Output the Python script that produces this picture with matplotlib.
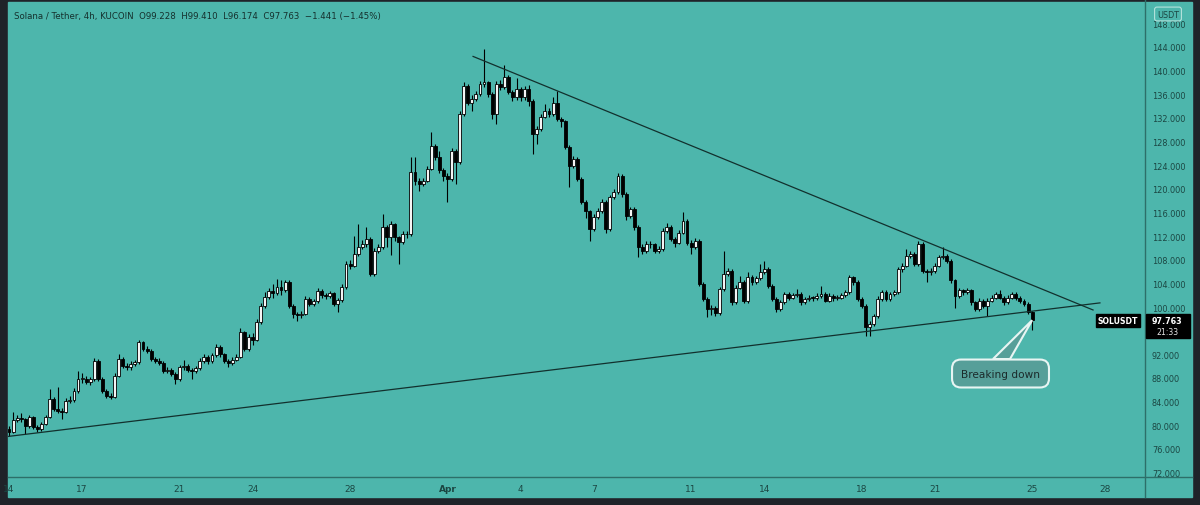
import matplotlib
matplotlib.use("Agg")
import matplotlib.pyplot as plt
from matplotlib.patches import Rectangle, Polygon
from matplotlib.lines import Line2D

# SOL/USDT 4h candles (open = previous close)
first_open = 79.3
closes = [
    78.9, 80.8, 81.2, 81.0, 79.9, 81.4, 79.7, 79.4, 80.2, 81.4,
    84.4, 82.7, 82.4, 82.3, 84.1, 84.3, 85.8, 87.8, 87.9, 87.3,
    87.8, 90.9, 87.8, 85.8, 85.0, 84.8, 88.4, 91.2, 90.1, 89.8,
    90.4, 90.7, 94.0, 92.9, 92.6, 91.2, 90.9, 90.6, 89.2, 89.4,
    88.7, 87.8, 89.8, 90.0, 89.4, 89.1, 89.7, 90.9, 91.5, 90.8,
    91.8, 93.2, 92.0, 90.9, 90.5, 91.1, 91.6, 95.7, 92.9, 94.9,
    94.5, 97.5, 100.2, 101.7, 102.7, 102.4, 103.4, 102.8, 104.2, 100.2,
    98.8, 98.6, 98.9, 101.4, 100.5, 101.0, 102.7, 102.0, 101.8, 102.3,
    100.5, 101.2, 103.4, 107.3, 107.0, 109.0, 110.2, 110.6, 111.5, 105.6,
    109.5, 110.2, 113.5, 111.8, 114.0, 111.8, 111.0, 112.4, 112.3, 122.8,
    121.3, 120.9, 121.4, 123.4, 127.3, 125.3, 123.1, 122.2, 121.6, 126.4,
    124.5, 132.7, 137.4, 134.6, 135.2, 136.0, 137.7, 138.0, 136.0, 132.7,
    137.7, 137.2, 139.0, 136.4, 135.5, 136.9, 135.5, 136.9, 134.9, 129.3,
    130.1, 132.2, 133.2, 132.6, 134.5, 131.8, 131.4, 127.1, 123.9, 125.0,
    121.7, 117.8, 116.2, 113.2, 115.2, 116.2, 117.8, 113.2, 118.6, 119.5,
    122.2, 119.1, 115.4, 116.6, 113.5, 110.1, 109.5, 110.7, 110.6, 109.5,
    109.8, 112.9, 113.5, 111.5, 110.9, 112.6, 114.6, 110.9, 110.1, 111.2,
    103.9, 101.4, 99.7, 99.9, 99.0, 103.0, 105.6, 106.1, 100.8, 103.3,
    104.2, 101.0, 105.1, 104.2, 104.9, 105.9, 106.5, 103.6, 101.4, 99.7,
    100.8, 102.2, 101.6, 102.0, 102.2, 100.8, 101.3, 101.6, 101.5, 101.9,
    102.2, 101.1, 101.9, 101.5, 101.6, 102.0, 102.5, 105.0, 104.2, 101.4,
    100.2, 96.6, 97.1, 98.5, 101.4, 102.5, 101.4, 102.2, 102.5, 106.4,
    107.0, 108.7, 109.0, 107.3, 110.7, 106.1, 105.9, 106.1, 107.0, 108.4,
    108.7, 107.8, 104.5, 101.9, 102.8, 102.5, 102.8, 100.8, 99.7, 101.1,
    100.1, 101.1, 101.6, 102.2, 101.6, 100.8, 101.6, 102.2, 101.6, 101.1,
    100.5, 99.228, 97.763,
]
highs = [
    79.8, 82.2, 81.7, 82.0, 81.3, 81.8, 81.6, 80.0, 80.5, 81.8,
    86.1, 84.8, 86.5, 82.9, 84.6, 84.9, 86.3, 89.2, 88.9, 88.3,
    88.2, 91.3, 91.2, 88.1, 86.1, 85.5, 88.8, 92.0, 91.6, 90.6,
    90.9, 91.1, 94.5, 94.2, 93.4, 92.9, 91.6, 91.3, 90.9, 89.8,
    89.7, 89.0, 90.2, 91.1, 90.3, 89.7, 90.1, 91.3, 92.1, 91.8,
    92.3, 93.7, 93.5, 92.3, 91.2, 91.5, 92.1, 96.4, 96.0, 95.4,
    95.6, 97.9, 100.7, 102.5, 103.3, 103.9, 104.7, 104.5, 104.6, 104.5,
    100.5, 99.2, 99.4, 101.8, 101.7, 101.4, 103.2, 103.0, 102.4, 102.7,
    102.6, 101.6, 103.9, 107.8, 107.9, 112.0, 114.0, 111.3, 113.5, 111.9,
    110.0, 110.7, 115.7, 113.9, 114.5, 114.3, 112.1, 112.8, 112.8, 125.4,
    125.4, 121.8, 121.9, 123.9, 129.6, 127.6, 126.4, 123.5, 122.7, 126.9,
    126.8, 133.2, 138.0, 137.7, 135.8, 136.5, 138.2, 143.7, 138.3, 136.3,
    138.3, 138.4, 141.0, 139.3, 136.7, 138.7, 137.2, 137.4, 137.6, 135.2,
    130.6, 132.7, 134.3, 133.6, 135.5, 136.5, 132.2, 131.7, 127.4, 125.5,
    125.3, 122.0, 118.1, 116.5, 115.7, 116.7, 118.3, 118.1, 119.0, 120.0,
    122.6, 122.5, 119.4, 117.0, 116.9, 113.8, 110.6, 111.1, 111.2, 110.9,
    110.3, 113.3, 114.2, 113.8, 111.8, 113.0, 116.0, 114.9, 111.3, 111.6,
    111.5, 104.2, 101.7, 100.4, 100.2, 103.4, 109.4, 106.6, 106.4, 103.8,
    105.2, 104.5, 105.9, 105.4, 105.3, 107.3, 107.8, 106.8, 103.9, 101.7,
    101.2, 102.6, 102.5, 102.4, 103.0, 102.5, 101.7, 102.0, 101.9, 102.3,
    103.5, 102.5, 102.3, 102.2, 102.0, 102.4, 102.9, 105.4, 105.3, 104.5,
    101.7, 100.5, 97.6, 98.9, 101.8, 102.9, 102.8, 102.6, 102.9, 106.8,
    107.5, 109.8, 109.5, 109.3, 111.2, 111.0, 106.5, 106.6, 107.4, 108.8,
    110.1, 109.0, 108.1, 104.8, 103.2, 103.1, 103.2, 103.1, 101.1, 101.5,
    101.4, 101.5, 102.0, 102.6, 102.8, 101.9, 102.0, 102.6, 102.5, 101.9,
    101.4, 100.8, 99.41,
]
lows = [
    78.2, 78.7, 80.5, 80.6, 78.5, 79.6, 79.3, 78.9, 79.1, 80.0,
    81.2, 82.4, 82.0, 81.0, 82.0, 83.7, 84.0, 85.5, 87.2, 86.9,
    86.8, 87.5, 87.4, 85.4, 84.6, 84.4, 84.6, 88.1, 89.7, 89.3,
    89.4, 90.0, 90.4, 92.5, 92.2, 90.9, 90.5, 90.2, 88.9, 88.8,
    88.3, 87.0, 87.5, 89.4, 89.0, 87.9, 88.8, 89.4, 90.6, 90.4,
    90.5, 91.5, 91.6, 90.5, 89.8, 90.2, 90.8, 91.3, 92.5, 92.6,
    93.6, 94.2, 97.2, 99.9, 101.4, 101.6, 102.0, 102.1, 102.5, 99.8,
    98.2, 97.6, 98.2, 98.6, 100.1, 100.2, 100.7, 101.6, 101.3, 101.5,
    100.1, 99.2, 100.9, 103.1, 106.5, 106.7, 108.6, 109.8, 110.2, 105.2,
    105.3, 109.1, 109.9, 110.2, 108.8, 111.2, 107.3, 110.6, 111.6, 112.0,
    120.6, 119.6, 120.5, 121.1, 123.1, 124.9, 122.7, 121.3, 117.8, 121.3,
    120.8, 124.2, 132.4, 134.2, 133.1, 134.8, 135.7, 137.3, 135.6, 131.8,
    131.0, 136.8, 136.9, 136.0, 134.8, 135.1, 134.9, 135.1, 134.0, 125.9,
    127.5, 129.8, 131.9, 132.2, 132.3, 131.4, 130.5, 126.7, 120.3, 123.5,
    121.3, 117.4, 115.0, 111.2, 112.9, 114.9, 115.9, 112.5, 112.9, 118.2,
    119.2, 118.7, 114.8, 115.1, 113.1, 108.4, 109.0, 109.2, 110.0, 109.1,
    109.2, 109.5, 112.6, 111.1, 110.2, 110.6, 112.3, 110.5, 109.0, 109.8,
    103.5, 101.0, 98.3, 98.6, 98.5, 98.7, 102.7, 105.2, 100.4, 100.5,
    103.0, 100.6, 100.7, 103.8, 103.9, 104.6, 105.6, 103.2, 101.0, 99.2,
    99.4, 100.5, 101.2, 101.3, 101.7, 100.4, 100.5, 101.0, 101.1, 101.2,
    101.6, 100.8, 100.8, 101.1, 101.2, 101.3, 101.7, 102.2, 103.8, 101.0,
    99.8, 95.1, 95.1, 96.8, 98.2, 101.1, 101.0, 101.1, 101.9, 102.2,
    106.0, 106.7, 108.3, 106.9, 107.0, 105.7, 104.2, 105.5, 105.8, 106.7,
    108.1, 107.4, 104.1, 99.9, 101.6, 102.1, 102.2, 100.4, 99.3, 99.4,
    99.8, 98.4, 100.8, 101.3, 101.3, 100.4, 100.5, 101.3, 101.2, 100.7,
    100.1, 98.9, 96.174,
]

# date axis: days after Mar 14, 6 candles per day
day_offsets = [0, 3, 7, 10, 14, 18, 21, 24, 28, 31, 35, 38, 42, 45]
day_labels = ['14', '17', '21', '24', '28', 'Apr', '4', '7', '11', '14', '18', '21', '25', '28']
price_ticks = list(range(72, 149, 4))

# trend lines (candle index, price)
upper_x, upper_y = [114.3, 267.0], [142.4, 99.5]
lower_x, lower_y = [-0.25, 268.7], [78.1, 100.7]

W, H = 1200, 506
bg = '#4db6ac'
dark = '#1f2329'
axis_line = '#2d6f69'
label_col = '#1b4642'

fig = plt.figure(figsize=(W / 100, H / 100), dpi=100)
fig.patch.set_facecolor(dark)


def fx(px):
    return px / W


def fy(py):
    return 1 - py / H


fig.add_artist(Rectangle((fx(8), fy(498)), fx(1192) - fx(8), fy(3) - fy(498),
                         transform=fig.transFigure, color=bg, zorder=0))

ax = fig.add_axes([fx(8), fy(478), fx(1145) - fx(8), fy(3) - fy(478)])
ax.set_facecolor('none')
ax.set_xlim(-0.25, 279.8)
ax.set_ylim(71.24, 151.61)
for s in ax.spines.values():
    s.set_visible(False)

opens = [first_open] + closes[:-1]
idx = list(range(len(closes)))
ax.vlines(idx, lows, highs, color='black', lw=0.8, zorder=2)
for i, o, c in zip(idx, opens, closes):
    lo, hi = min(o, c), max(o, c)
    h = max(hi - lo, 0.12)
    if c >= o:
        ax.bar(i, h, bottom=lo, width=0.72, color='#f4f4f4', edgecolor='black', lw=0.6, zorder=3)
    else:
        ax.bar(i, h, bottom=lo, width=0.72, color='black', edgecolor='black', lw=0.6, zorder=3)

ax.plot(upper_x, upper_y, color='#12302d', lw=0.9, zorder=4)
ax.plot(lower_x, lower_y, color='#12302d', lw=0.9, zorder=4)

# ticks (the 96 label sits under the last-price tag, so it stays blank)
ax.yaxis.tick_right()
ax.set_yticks(price_ticks)
ax.set_yticklabels(['' if p == 96 else f'{p:.3f}' for p in price_ticks])
ax.set_xticks([d * 6 for d in day_offsets])
ax.set_xticklabels(day_labels)
ax.tick_params(axis='y', length=0, pad=5, labelsize=5.9, labelcolor=label_col)
ax.tick_params(axis='x', length=0, pad=5, labelsize=6.5, labelcolor=label_col)
ax.get_xticklabels()[5].set_fontweight('bold')

# panel separators
fig.add_artist(Line2D([fx(1145), fx(1145)], [fy(0), fy(498)], transform=fig.transFigure,
                      color=axis_line, lw=1))
fig.add_artist(Line2D([fx(8), fx(1192)], [fy(478), fy(478)], transform=fig.transFigure,
                      color=axis_line, lw=1))

# header
fig.text(fx(14), fy(16), 'Solana / Tether, 4h, KUCOIN  O99.228  H99.410  L96.174  C97.763  \u22121.441 (\u22121.45%)',
         fontsize=6.25, color='#15302d', va='center', ha='left')
fig.text(fx(1168), fy(15), 'USDT', fontsize=5.8, color=label_col, ha='center', va='center',
         bbox=dict(boxstyle='round,pad=0.3', fc=bg, ec='#b5e2dc', lw=0.8))

# last price labels
last = closes[-1]
ax.text((1118 - 9) / 4.06, last, 'SOLUSDT', fontsize=5.6, color='white', fontweight='bold',
        ha='center', va='center', clip_on=False,
        bbox=dict(boxstyle='square,pad=0.25', fc='black', ec='black'))
fig.add_artist(Rectangle((fx(1146), fy(339)), fx(1190) - fx(1146), fy(315) - fy(339),
                         transform=fig.transFigure, color='black', zorder=5))
fig.text(fx(1167), fy(321), f'{last:.3f}', fontsize=5.8, color='white', fontweight='bold',
         ha='center', va='center', zorder=6)
fig.text(fx(1167), fy(333), '21:33', fontsize=5.6, color='#e6e6e6', ha='center', va='center', zorder=6)

# callout
tip = (len(closes) - 1, last)
wedge = Polygon([((993 - 9) / 4.06, 91.2), tip, ((1010 - 9) / 4.06, 91.2)], closed=True,
                fc='#569f99', ec='#e8f5f3', lw=1.5, zorder=5)
ax.add_patch(wedge)
ax.text((1000.5 - 9) / 4.06, 88.75, 'Breaking down', fontsize=7.6, color='#1b2b2b',
        ha='center', va='center', zorder=6,
        bbox=dict(boxstyle='round,pad=0.85', fc='#569f99', ec='#e8f5f3', lw=1.5))

fig.savefig('out.png', dpi=100, facecolor=fig.get_facecolor())
